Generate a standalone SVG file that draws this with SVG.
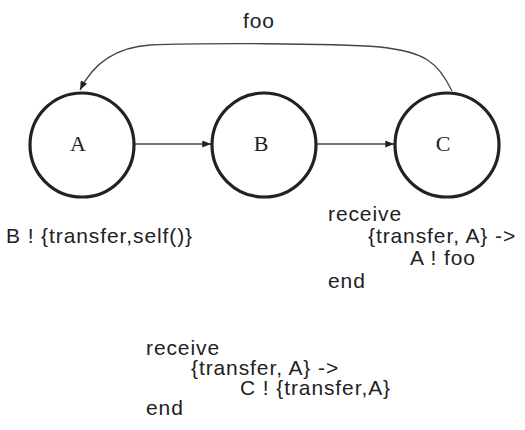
<svg xmlns="http://www.w3.org/2000/svg" width="525" height="430" viewBox="0 0 525 430">
<style>
.node circle{fill:#fff;stroke:#222;stroke-width:3.2}
.lbl{font-family:"Liberation Serif","Times New Roman",serif;font-size:22px;fill:#222;text-anchor:middle}
.t{font-family:"Liberation Sans",Arial,sans-serif;font-size:21px;letter-spacing:0.9px;fill:#222}
.edge{fill:none;stroke:#444;stroke-width:1.3}
</style>
<defs>
<marker id="ah" viewBox="0 0 10 8" refX="10" refY="4" markerWidth="10" markerHeight="7" markerUnits="userSpaceOnUse" orient="auto">
<path d="M0,0 L10,4 L0,8 z" fill="#222"/>
</marker>
</defs>
<rect width="525" height="430" fill="#fff"/>
<g id="edges">
<path class="edge" d="M134,144 L211,144" marker-end="url(#ah)"/>
<path class="edge" d="M316,144 L394,144" marker-end="url(#ah)"/>
<path class="edge" d="M452,91 C438,62 425,52 380,47 C330,43 200,43 150,45 C120,47 95,60 80,90" marker-end="url(#ah)"/>
<text class="t" x="259" y="28" text-anchor="middle">foo</text>
</g>
<g id="A" class="node"><circle cx="82" cy="145" r="52"/><text class="lbl" x="78" y="151">A</text></g>
<g id="B" class="node"><circle cx="264" cy="145" r="52"/><text class="lbl" x="261" y="151">B</text></g>
<g id="C" class="node"><circle cx="447" cy="145" r="52"/><text class="lbl" x="443" y="151">C</text></g>
<g id="codeA">
<text class="t" x="6" y="243">B ! {transfer,self()}</text>
</g>
<g id="codeC">
<text class="t" x="328" y="221">receive</text>
<text class="t" x="368" y="243">{transfer, A} -&gt;</text>
<text class="t" x="410" y="265">A ! foo</text>
<text class="t" x="328" y="288">end</text>
</g>
<g id="codeB">
<text class="t" x="146" y="355">receive</text>
<text class="t" x="191" y="375">{transfer, A} -&gt;</text>
<text class="t" x="240" y="395">C ! {transfer,A}</text>
<text class="t" x="146" y="415">end</text>
</g>
</svg>
